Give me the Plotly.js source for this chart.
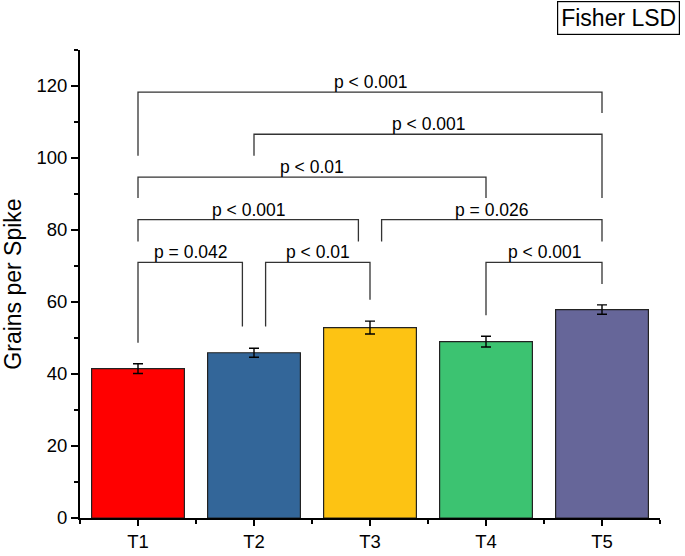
<!DOCTYPE html>
<html>
<head>
<meta charset="utf-8">
<script src="https://cdn.plot.ly/plotly-3.0.1.min.js"></script>
<style>html,body{margin:0;padding:0;background:#fff;}#chart{width:685px;height:556px;}</style>
</head>
<body>
<div id="chart"></div>
<script>
// ---- data ----
const categories = ["T1", "T2", "T3", "T4", "T5"];
const grainsPerSpike = [41.5, 45.9, 52.9, 49.0, 57.9];
const errors = [1.35, 1.25, 1.8, 1.5, 1.3];
const barColors = ["#FF0000", "#336699", "#FDC313", "#3CC371", "#666699"];

// pairwise comparison brackets (category index positions, levels in data units)
const bracketFrom = [0, 1, 0, 0, 2.1, 0, 1.1, 3];
const bracketTo = [4, 4, 3, 1.9, 4, 0.9, 2, 4];
const bracketLevel = [118.3, 106.6, 94.7, 82.9, 82.9, 71.0, 71.0, 71.0];
const legLeftEnd = [100.6, 100.6, 88.9, 76.8, 76.8, 48.7, 53.2, 56.3];
const legRightEnd = [112.5, 88.9, 88.9, 76.8, 76.8, 53.2, 60.6, 65.0];
const bracketLabels = ["p < 0.001", "p < 0.001", "p < 0.01", "p < 0.001", "p = 0.026", "p = 0.042", "p < 0.01", "p < 0.001"];

const xIdx = categories.map((c, i) => i);
const FONT = "Liberation Sans, Arial, sans-serif";

const trace = {
  type: "bar",
  x: xIdx,
  y: grainsPerSpike,
  width: 0.8,
  marker: { color: barColors, line: { color: "#222", width: 1.2 } },
  error_y: { type: "data", array: errors, visible: true, color: "#000", thickness: 1.4, width: 5 },
  hoverinfo: "skip"
};

const shapes = [];
const annotations = [];
for (let i = 0; i < bracketLabels.length; i++) {
  const x0 = bracketFrom[i], x1 = bracketTo[i], lv = bracketLevel[i];
  shapes.push({
    type: "path", xref: "x", yref: "y",
    path: `M ${x0},${legLeftEnd[i]} L ${x0},${lv} L ${x1},${lv} L ${x1},${legRightEnd[i]}`,
    line: { color: "#333", width: 1.3 }
  });
  annotations.push({
    xref: "x", yref: "y", x: (x0 + x1) / 2, y: lv,
    text: bracketLabels[i], showarrow: false, xanchor: "center", yanchor: "bottom",
    yshift: -2,
    font: { family: FONT, size: 17.5, color: "#000" }
  });
}
annotations.push({
  xref: "paper", yref: "paper", x: 1.034, y: 1.104, xanchor: "right", yanchor: "top",
  text: "Fisher LSD", showarrow: false, bordercolor: "#000", borderwidth: 1.2, borderpad: 3,
  bgcolor: "#fff", font: { family: FONT, size: 23, color: "#000" }
});

const layout = {
  width: 685, height: 556,
  margin: { l: 80, r: 25, t: 50, b: 38 },
  paper_bgcolor: "#fff", plot_bgcolor: "#fff",
  showlegend: false,
  font: { family: FONT, color: "#000" },
  xaxis: {
    type: "linear", range: [-0.5, 4.5],
    tickmode: "array", tickvals: xIdx, ticktext: categories,
    ticks: "outside", ticklen: 6, tickwidth: 2, tickcolor: "#000",
    minor: { tick0: -0.5, dtick: 1, ticks: "outside", ticklen: 4, tickwidth: 2, tickcolor: "#000", showgrid: false },
    showline: true, linecolor: "#000", linewidth: 2,
    showgrid: false, zeroline: false,
    tickfont: { family: FONT, size: 18.5, color: "#000" }
  },
  yaxis: {
    range: [0, 130], tick0: 0, dtick: 20,
    ticks: "outside", ticklen: 7, tickwidth: 2, tickcolor: "#000",
    minor: { tick0: 0, dtick: 10, ticks: "outside", ticklen: 4, tickwidth: 2, tickcolor: "#000", showgrid: false },
    showline: true, linecolor: "#000", linewidth: 2,
    showgrid: false, zeroline: false,
    tickfont: { family: FONT, size: 18.5, color: "#000" },
    title: { text: "Grains per Spike", font: { family: FONT, size: 23, color: "#000" }, standoff: 8 }
  },
  shapes: shapes,
  annotations: annotations
};

Plotly.newPlot("chart", [trace], layout, { staticPlot: true, displayModeBar: false });
</script>
</body>
</html>
